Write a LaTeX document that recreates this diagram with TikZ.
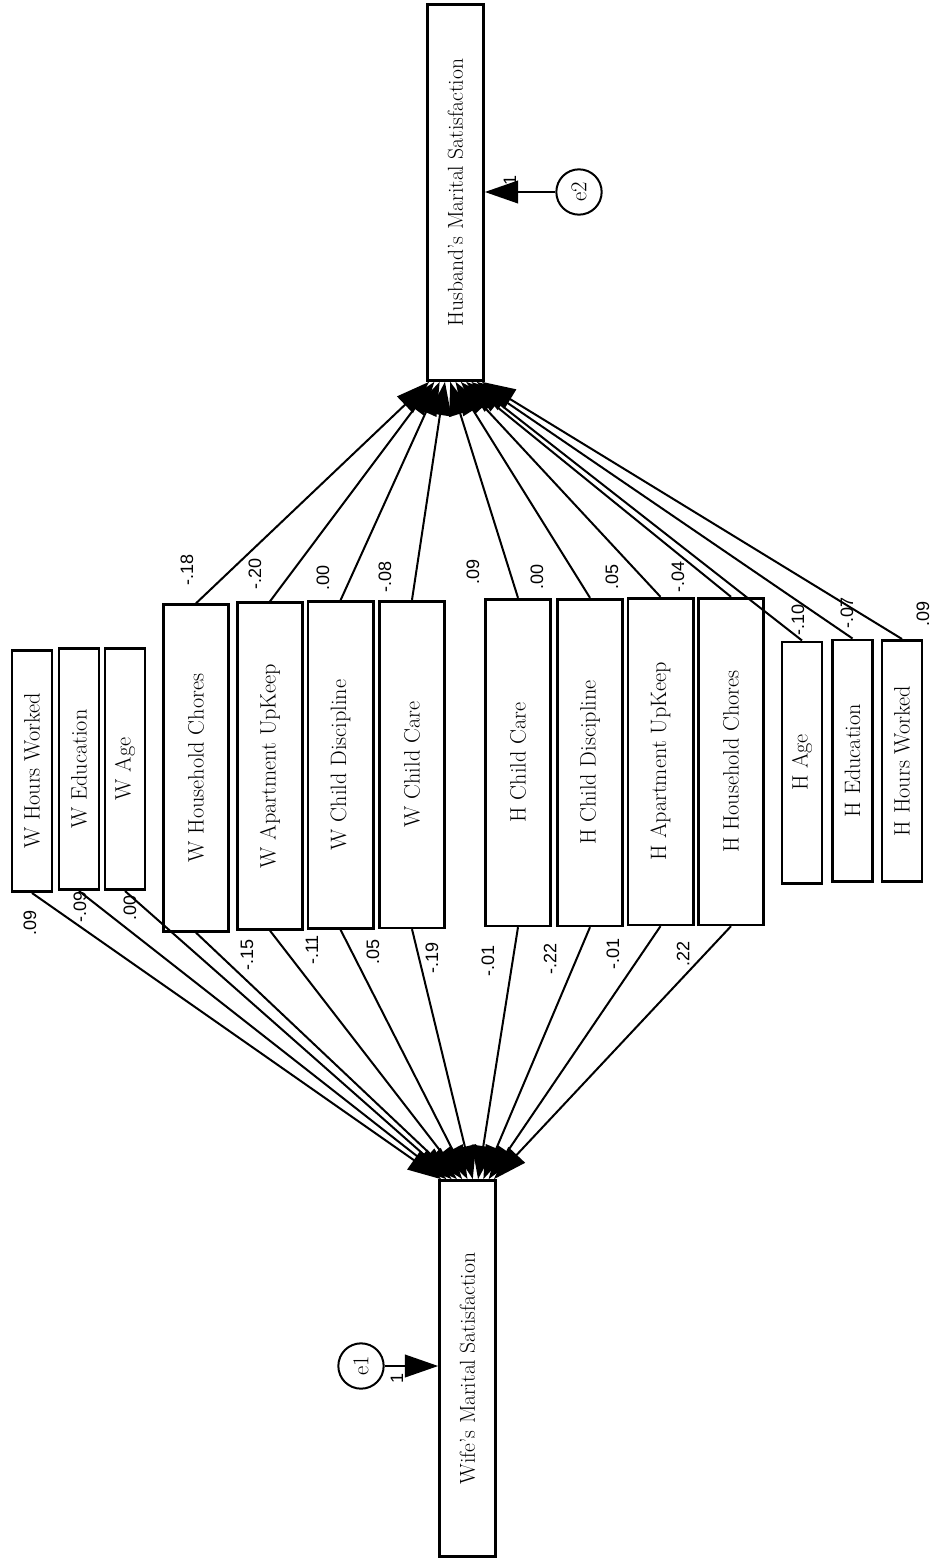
\documentclass[tikz,border=0pt]{standalone}
\usepackage{fontspec}
\usepackage{graphicx}
\usetikzlibrary{arrows.meta,calc}
\newfontfamily\numfont{Liberation Sans}
\newcommand{\vtext}[1]{\rotatebox{90}{#1}}

\tikzset{
  varbox/.style={draw, line width=2pt, inner sep=0pt, font=\fontsize{16.7}{19}\selectfont},
  demobox/.style={varbox, minimum width=30pt, minimum height=181pt},
  chorebox/.style={varbox, minimum width=49pt, minimum height=245pt},
  outcomebox/.style={varbox, minimum width=42pt, minimum height=282pt, font=\fontsize{16.2}{19}\selectfont},
  errcirc/.style={draw, circle, line width=1.5pt, minimum size=34pt, inner sep=0pt, font=\fontsize{17}{19}\selectfont},
  coef/.style={inner sep=0pt, font=\numfont\fontsize{13.5}{15}\selectfont},
  regline/.style={line width=1.5pt, -{Triangle[length=25pt,width=17pt]}},
}

\begin{document}
\begin{tikzpicture}[x=0.75pt,y=0.75pt,yscale=-1,xscale=1]
\useasboundingbox (0,0) rectangle (932,1558);

% Outcomes
\node[outcomebox] (husb) at (455.5,192.5) {\vtext{Husband's Marital Satisfaction}};
\node[outcomebox] (wife) at (467.5,1368.5) {\vtext{Wife's Marital Satisfaction}};

% Wife predictors
\node[demobox] (whw) at (32,771) {\vtext{W Hours Worked}};
\node[demobox] (wedu) at (79,769) {\vtext{W Education}};
\node[demobox] (wage) at (125,769) {\vtext{W Age}};
\node[chorebox] (whc) at (196,768) {\vtext{W Household Chores}};
\node[chorebox] (wau) at (270,766) {\vtext{W Apartment UpKeep}};
\node[chorebox] (wcd) at (340.5,765) {\vtext{W Child Discipline}};
\node[chorebox] (wcc) at (412,764.5) {\vtext{W Child Care}};

% Husband predictors
\node[chorebox] (hcc) at (518,762.5) {\vtext{H Child Care}};
\node[chorebox] (hcd) at (590,762.5) {\vtext{H Child Discipline}};
\node[chorebox] (hau) at (660.5,761.5) {\vtext{H Apartment UpKeep}};
\node[chorebox] (hhc) at (731,761.5) {\vtext{H Household Chores}};
\node[demobox] (hage) at (802,762.5) {\vtext{H Age}};
\node[demobox] (hedu) at (852.5,760.5) {\vtext{H Education}};
\node[demobox] (hhw) at (902,761) {\vtext{H Hours Worked}};

% Errors
\node[errcirc] (e1) at (361,1366) {\vtext{e1}};
\node[errcirc] (e2) at (579,192) {\vtext{e2}};
\draw[regline] (e1.east) -- (e1 -| wife.west);
\draw[regline] (e2.west) -- (e2 -| husb.east);
\node[coef] (one1) at (397,1378) {\vtext{1}};
\node[coef] (one2) at (510,180) {\vtext{1}};

% Paths to wife
\foreach \s/\cf/\lx/\ly [count=\i from 0, evaluate=\i as \f using 0.05+0.09*\i] in
  {whw/.09/30/923, wedu/-.09/80/907, wage/.00/130/908, whc/-.15/247/955,
   wau/-.11/312/950, wcd/.05/373/952, wcc/-.19/432/958, hcc/-.01/488/961,
   hcd/-.22/550/959, hau/-.01/613/954, hhc/.22/683/954}
{
  \draw[regline] (\s.south) -- ($(wife.north west)!\f!(wife.north east)$);
  \node[coef] (\s-w) at (\lx,\ly) {\vtext{\cf}};
}

% Paths to husband
\foreach \s/\cf/\lx/\ly [count=\i from 0, evaluate=\i as \f using 0.05+0.09*\i] in
  {whc/-.18/187/570, wau/-.20/255/574, wcd/.00/323/578, wcc/-.08/385/577,
   hcc/.09/473/572, hcd/.00/537/577, hau/.05/612/577, hhc/-.04/678/577,
   hage/-.10/798/620, hedu/-.07/847/613, hhw/.09/923/614}
{
  \draw[regline] (\s.north) -- ($(husb.south west)!\f!(husb.south east)$);
  \node[coef] (\s-h) at (\lx,\ly) {\vtext{\cf}};
}

\end{tikzpicture}
\end{document}
